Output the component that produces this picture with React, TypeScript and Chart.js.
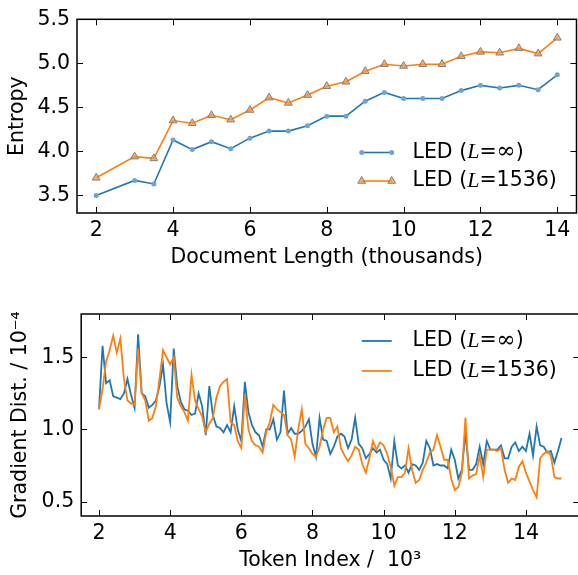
import React, { useEffect, useRef } from "react";
import { Chart, registerables } from "chart.js";
Chart.register(...registerables);

// ---------- Top panel data ----------
const docLength = [2, 3, 3.5, 4, 4.5, 5, 5.5, 6, 6.5, 7, 7.5, 8, 8.5, 9, 9.5, 10, 10.5, 11, 11.5, 12, 12.5, 13, 13.5, 14];
const entropyInf = [3.50, 3.67, 3.63, 4.13, 4.02, 4.11, 4.03, 4.15, 4.23, 4.23, 4.29, 4.40, 4.40, 4.57, 4.67, 4.60, 4.60, 4.60, 4.69, 4.75, 4.72, 4.75, 4.70, 4.87];
const entropy1536 = [3.70, 3.94, 3.92, 4.35, 4.32, 4.41, 4.36, 4.47, 4.61, 4.55, 4.64, 4.74, 4.79, 4.91, 4.99, 4.97, 4.99, 4.99, 5.08, 5.13, 5.12, 5.17, 5.11, 5.29];
const entropyXTicks = [2, 4, 6, 8, 10, 12, 14];
const entropyYTicks = [3.5, 4.0, 4.5, 5.0, 5.5];

// ---------- Bottom panel data ----------
const tokenIndex = Array.from({ length: 131 }, (_, i) => Math.round((2 + i * 0.1) * 10) / 10);
const gradInf = [
  1.14, 1.58, 1.32, 1.34, 1.23, 1.22, 1.21, 1.25, 1.35, 1.24,
  1.15, 1.66, 1.25, 1.23, 1.15, 1.17, 1.20, 1.30, 1.45, 1.18,
  1.05, 1.56, 1.30, 1.19, 1.14, 1.13, 1.10, 1.11, 1.25, 1.16,
  0.96, 1.30, 1.10, 1.02, 1.01, 0.98, 1.03, 0.98, 1.16, 1.00,
  0.92, 1.33, 1.12, 1.03, 0.98, 0.96, 0.88, 1.00, 1.00, 1.07,
  0.93, 0.98, 1.27, 0.97, 1.01, 0.97, 0.97, 0.99, 1.02, 1.07,
  0.90, 0.81, 1.08, 0.93, 0.92, 0.83, 0.88, 0.95, 0.97, 0.95,
  0.87, 0.93, 1.08, 0.90, 0.87, 0.80, 0.83, 0.87, 0.84, 0.86,
  0.79, 0.76, 0.66, 0.92, 0.75, 0.73, 0.75, 0.70, 0.76, 0.75,
  0.72, 0.77, 0.92, 0.87, 0.75, 0.76, 0.75, 0.75, 0.73, 0.86,
  0.79, 0.66, 0.72, 0.98, 0.72, 0.72, 0.76, 0.88, 0.76, 0.92,
  0.86, 0.86, 0.86, 0.89, 0.80, 0.80, 0.88, 0.91, 0.85, 0.88,
  0.85, 0.97, 0.82, 1.02, 0.89, 0.88, 0.84, 0.85, 0.77, 0.85,
  0.94,
];
const grad1536 = [
  1.14, 1.28, 1.47, 1.55, 1.65, 1.53, 1.63, 1.35, 1.20, 1.18,
  1.17, 1.56, 1.25, 1.20, 1.06, 1.08, 1.16, 1.35, 1.55, 1.50,
  1.45, 1.50, 1.22, 1.16, 1.12, 1.06, 1.38, 1.20, 1.14, 1.09,
  0.98, 1.04, 1.08, 1.22, 1.30, 1.33, 1.35, 1.05, 1.03, 0.92,
  0.87, 1.24, 1.00, 0.92, 0.89, 0.88, 0.84, 0.98, 1.05, 1.17,
  1.14, 1.12, 1.10, 0.96, 0.93, 0.81, 1.00, 1.14, 0.90, 0.87,
  0.83, 0.81, 0.88, 1.00, 1.08, 1.08, 0.98, 1.02, 0.87, 0.82,
  0.78, 0.82, 0.88, 0.86, 0.76, 0.70, 0.80, 0.92, 0.86, 0.91,
  0.89, 0.83, 0.74, 0.61, 0.67, 0.67, 0.70, 0.87, 0.72, 0.63,
  0.65, 0.72, 0.77, 0.84, 0.86, 0.96, 0.88, 0.79, 0.79, 0.66,
  0.58, 0.60, 0.70, 1.08, 0.66, 0.68, 0.69, 0.82, 0.67, 0.86,
  0.86, 0.86, 0.85, 0.87, 0.72, 0.63, 0.66, 0.65, 0.74, 0.78,
  0.70, 0.64, 0.58, 0.53, 0.80, 0.83, 0.85, 0.82, 0.67, 0.66,
  0.66,
];
const gradXTicks = [2, 4, 6, 8, 10, 12, 14];
const gradYTicks = [0.5, 1.0, 1.5];

const seriesNames = ["LED (L=∞)", "LED (L=1536)"];
const legendSuffix = ["∞", "1536"];

// ---------- styling ----------
const BLUE = "#1f77b4";
const ORANGE = "#ff7f0e";
const FS = 20.5;
const SANS = "'DejaVu Sans'";
const font = { family: "DejaVu Sans", size: FS };

type LegendCfg = { lineX0: number; lineX1: number; textX: number; rows: number[]; markers: boolean };

function drawMarker(ctx: CanvasRenderingContext2D, kind: number, x: number, y: number) {
  if (kind === 0) {
    ctx.beginPath();
    ctx.arc(x, y, 2.5, 0, Math.PI * 2);
    ctx.fillStyle = "#6fa3d2";
    ctx.fill();
  } else {
    const r = 4.5;
    ctx.beginPath();
    ctx.moveTo(x, y - r);
    ctx.lineTo(x + r * Math.sin((2 * Math.PI) / 3), y - r * Math.cos((2 * Math.PI) / 3));
    ctx.lineTo(x + r * Math.sin((4 * Math.PI) / 3), y - r * Math.cos((4 * Math.PI) / 3));
    ctx.closePath();
    ctx.fillStyle = "rgba(255,150,60,0.75)";
    ctx.fill();
    ctx.lineWidth = 1;
    ctx.strokeStyle = "#7f7f7f";
    ctx.stroke();
  }
}

function framePlugin(legend: LegendCfg) {
  return {
    id: "frameAndLegend",
    afterDraw(chart: any) {
      const { ctx, chartArea: a, scales } = chart;
      const xs = scales.x;
      const ys = scales.y;
      ctx.save();
      ctx.strokeStyle = "#000";
      ctx.lineWidth = 1;
      const L = 6;
      const seg = (x0: number, y0: number, x1: number, y1: number) => {
        ctx.beginPath();
        ctx.moveTo(x0, y0);
        ctx.lineTo(x1, y1);
        ctx.stroke();
      };
      xs.ticks.forEach((t: any) => {
        const p = Math.round(xs.getPixelForValue(t.value)) + 0.5;
        seg(p, a.bottom, p, a.bottom - L);
        seg(p, a.top, p, a.top + L);
      });
      ys.ticks.forEach((t: any) => {
        const p = Math.round(ys.getPixelForValue(t.value)) + 0.5;
        seg(a.left, p, a.left + L, p);
        seg(a.right, p, a.right - L, p);
      });
      ctx.lineWidth = 1.5;
      ctx.strokeRect(a.left, a.top, a.right - a.left, a.bottom - a.top);

      // legend
      chart.data.datasets.forEach((ds: any, i: number) => {
        const y = legend.rows[i];
        ctx.strokeStyle = ds.borderColor;
        ctx.lineWidth = ds.borderWidth;
        seg(legend.lineX0, y, legend.lineX1, y);
        if (legend.markers) {
          drawMarker(ctx, i, legend.lineX0, y);
          drawMarker(ctx, i, legend.lineX1, y);
        }
        ctx.fillStyle = "#000";
        ctx.textBaseline = "middle";
        ctx.textAlign = "left";
        let x = legend.textX;
        const piece = (txt: string, f: string) => {
          ctx.font = f;
          ctx.fillText(txt, x, y);
          x += ctx.measureText(txt).width;
        };
        piece("LED (", `${FS}px ${SANS}`);
        piece("L", `italic 22px 'Liberation Serif'`);
        if (legendSuffix[i] === "∞") {
          piece("=", `${FS}px ${SANS}`);
          piece("∞", `23px 'DejaVu Serif'`);
          piece(")", `${FS}px ${SANS}`);
        } else {
          piece("=" + legendSuffix[i] + ")", `${FS}px ${SANS}`);
        }
      });
      ctx.restore();
    },
  };
}

function makeScales(opts: {
  xMin: number; xMax: number; xTicks: number[]; xTitle: string;
  yMin: number; yMax: number; yTicks: number[]; yTitle: string;
  yWidth: number; xHeight: number; yTitlePad: number;
}) {
  return {
    x: {
      type: "linear" as const,
      min: opts.xMin,
      max: opts.xMax,
      afterBuildTicks: (s: any) => { s.ticks = opts.xTicks.map((v) => ({ value: v })); },
      afterFit: (s: any) => { s.height = opts.xHeight; },
      grid: { display: false, drawTicks: false },
      border: { display: false },
      ticks: { font, color: "#000", padding: 5, maxRotation: 0, autoSkip: false, callback: (v: any) => String(v) },
      title: { display: true, text: opts.xTitle, font, color: "#000", padding: { top: 0, bottom: 2 } },
    },
    y: {
      type: "linear" as const,
      min: opts.yMin,
      max: opts.yMax,
      afterBuildTicks: (s: any) => { s.ticks = opts.yTicks.map((v) => ({ value: v })); },
      afterFit: (s: any) => { s.width = opts.yWidth; },
      grid: { display: false, drawTicks: false },
      border: { display: false },
      ticks: { font, color: "#000", padding: 7, autoSkip: false, callback: (v: any) => Number(v).toFixed(1) },
      title: { display: true, text: opts.yTitle, font, color: "#000", padding: { top: opts.yTitlePad, bottom: 0 } },
    },
  };
}

const W = 582;
const H1 = 272;
const H2 = 295;

export default function App() {
  const topRef = useRef<HTMLCanvasElement>(null);
  const botRef = useRef<HTMLCanvasElement>(null);

  useEffect(() => {
    const top = new Chart(topRef.current!, {
      type: "line",
      data: {
        datasets: [
          {
            label: seriesNames[0],
            data: docLength.map((x, i) => ({ x, y: entropyInf[i] })),
            borderColor: BLUE,
            borderWidth: 1.6,
            pointStyle: "circle",
            pointRadius: 2.5,
            pointBackgroundColor: "#6fa3d2",
            pointBorderColor: "#6fa3d2",
            pointBorderWidth: 0,
            tension: 0,
            order: 1,
          },
          {
            label: seriesNames[1],
            data: docLength.map((x, i) => ({ x, y: entropy1536[i] })),
            borderColor: ORANGE,
            borderWidth: 1.6,
            pointStyle: "triangle",
            pointRadius: 4.5,
            pointBackgroundColor: "rgba(255,150,60,0.75)",
            pointBorderColor: "#7f7f7f",
            pointBorderWidth: 1,
            tension: 0,
            order: 0,
          },
        ],
      },
      options: {
        responsive: false,
        animation: false,
        events: [],
        layout: { padding: { left: 0, top: 15.7, right: W - 579.3, bottom: 0 } },
        plugins: { legend: { display: false }, tooltip: { enabled: false } },
        scales: makeScales({
          xMin: 1.5, xMax: 14.5, xTicks: entropyXTicks, xTitle: "Document Length (thousands)",
          yMin: 3.3, yMax: 5.5, yTicks: entropyYTicks, yTitle: "Entropy",
          yWidth: 77, xHeight: H1 - 213, yTitlePad: 5.6,
        }) as any,
      },
      plugins: [framePlugin({ lineX0: 361.7, lineX1: 391.7, textX: 412.5, rows: [152.5, 181], markers: true })],
    });

    const bot = new Chart(botRef.current!, {
      type: "line",
      data: {
        datasets: [
          {
            label: seriesNames[0],
            data: tokenIndex.map((x, i) => ({ x, y: gradInf[i] })),
            borderColor: BLUE,
            borderWidth: 1.8,
            pointRadius: 0,
            tension: 0,
            order: 1,
          },
          {
            label: seriesNames[1],
            data: tokenIndex.map((x, i) => ({ x, y: grad1536[i] })),
            borderColor: ORANGE,
            borderWidth: 1.8,
            pointRadius: 0,
            tension: 0,
            order: 0,
          },
        ],
      },
      options: {
        responsive: false,
        animation: false,
        events: [],
        layout: { padding: { left: 0, top: 34, right: W - 579.3, bottom: 0 } },
        plugins: { legend: { display: false }, tooltip: { enabled: false } },
        scales: makeScales({
          xMin: 1.5, xMax: 15.5, xTicks: gradXTicks, xTitle: "Token Index /  10³",
          yMin: 0.4, yMax: 1.8, yTicks: gradYTicks, yTitle: "Gradient Dist. / 10⁻⁴",
          yWidth: 81.2, xHeight: H2 - 236, yTitlePad: 8.7,
        }) as any,
      },
      plugins: [framePlugin({ lineX0: 361.7, lineX1: 391.7, textX: 412.5, rows: [61, 91], markers: false })],
    });

    return () => {
      top.destroy();
      bot.destroy();
    };
  }, []);

  return (
    <div style={{ position: "absolute", left: 0, top: 0, width: 578, height: 575, overflow: "hidden", background: "#fff" }}>
      <canvas ref={topRef} width={W} height={H1} style={{ position: "absolute", left: 0, top: 0, width: W, height: H1 }} />
      <canvas ref={botRef} width={W} height={H2} style={{ position: "absolute", left: 0, top: 280, width: W, height: H2 }} />
    </div>
  );
}
